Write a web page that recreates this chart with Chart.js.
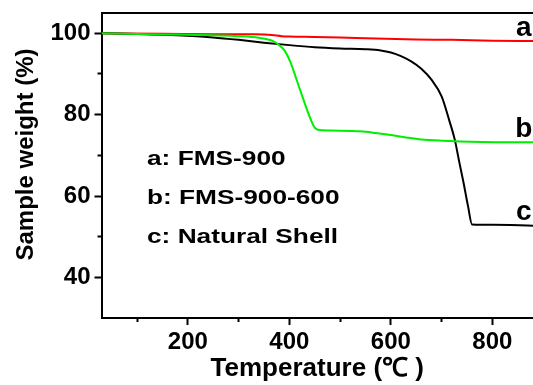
<!DOCTYPE html>
<html>
<head>
<meta charset="utf-8">
<script src="https://cdn.jsdelivr.net/npm/chart.js@4/dist/chart.umd.min.js"></script>
<style>
  html, body { margin: 0; padding: 0; background: #fff; overflow: hidden; }
  canvas { display: block; }
</style>
</head>
<body>
<canvas id="tga" width="533" height="385"></canvas>
<script>
'use strict';
const FONT = '"Liberation Sans", Arial, sans-serif';

// ticks
const xMajorTicks = [200, 400, 600, 800];
const xMinorTicks = [100, 300, 500, 700];
const yMajorTicks = [40, 60, 80, 100];
const yMinorTicks = [50, 70, 90];

// a: FMS-900 (red)
const tempA = [30, 150, 250, 330, 365, 385, 400, 450, 500, 570, 650, 720, 800, 880];
const weightA = [100, 99.9, 99.8, 99.75, 99.6, 99.3, 99.2, 99.1, 98.95, 98.7, 98.5, 98.4, 98.2, 98.1];

// b: FMS-900-600 (green)
const tempB = [30, 100, 200, 300, 340, 368, 380, 391, 402, 414, 427, 440, 450, 456, 480, 540, 570, 600, 630, 660, 700, 780, 880];
const weightB = [100, 99.85, 99.65, 99.3, 98.9, 98.1, 97.1, 95.7, 93.0, 88.7, 84.0, 79.5, 76.8, 76.3, 76.1, 75.9, 75.5, 75.0, 74.4, 73.9, 73.6, 73.3, 73.2];

// c: Natural Shell (black)
const tempC = [30, 100, 200, 250, 300, 350, 400, 450, 500, 550, 580, 600, 620, 640, 660, 680, 700, 715, 726, 735, 743, 752, 760, 800, 880];
const weightC = [100, 99.85, 99.4, 99.0, 98.4, 97.7, 97.1, 96.6, 96.3, 96.1, 95.8, 95.3, 94.4, 93.1, 91.3, 88.6, 84.5, 78.6, 73.8, 68.2, 63.4, 57.5, 53.0, 52.9, 52.7];

const legendLines = ['a: FMS-900', 'b: FMS-900-600', 'c: Natural Shell'];
const curveTags = ['a', 'b', 'c'];
const tagTemp = 862;

const pts = (t, w) => t.map((v, i) => ({ x: v, y: w[i] }));
const fixTicks = (arr) => (s) => { s.ticks = arr.map(v => ({ value: v })); };
const noPad = (s) => { s.paddingTop = 0; s.paddingBottom = 0; s.paddingLeft = 0; s.paddingRight = 0; };

const tickFont = { family: FONT, size: 24, weight: 'bold' };

const textPlugin = {
  id: 'textPlugin',
  afterDatasetsDraw(chart) {
    const { ctx, chartArea, scales } = chart;
    const x = scales.x, y = scales.y;
    ctx.save();
    ctx.fillStyle = '#000';
    // legend block (text is horizontally stretched in the source)
    ctx.font = 'bold 21px ' + FONT;
    ctx.textAlign = 'left';
    ctx.textBaseline = 'alphabetic';
    legendLines.forEach((t, i) => {
      ctx.save();
      ctx.translate(chartArea.left + 45.5, chartArea.top + 152 + i * 39);
      ctx.scale(1.25, 1);
      ctx.fillText(t, 0, 0);
      ctx.restore();
    });
    // curve letters at the right end
    ctx.font = 'bold 28px ' + FONT;
    ctx.textAlign = 'center';
    const lastW = [weightA, weightB, weightC].map(w => w[w.length - 1]);
    curveTags.forEach((tag, i) => {
      ctx.fillText(tag, x.getPixelForValue(tagTemp), y.getPixelForValue(lastW[i]) - 5.5);
    });
    // y title
    ctx.font = 'bold 24px ' + FONT;
    ctx.translate(33, (chartArea.top + chartArea.bottom) / 2 - 11);
    ctx.rotate(-Math.PI / 2);
    ctx.fillText('Sample weight (%)', 0, 0);
    ctx.restore();
  }
};

new Chart(document.getElementById('tga'), {
  type: 'line',
  data: {
    datasets: [
      { label: 'a', data: pts(tempA, weightA), borderColor: '#ff0000', order: 3 },
      { label: 'b', data: pts(tempB, weightB), borderColor: '#00ee00', order: 1 },
      { label: 'c', data: pts(tempC, weightC), borderColor: '#000000', order: 2 },
    ],
  },
  options: {
    responsive: false, animation: false,
    layout: { padding: { top: 13, left: 0, right: 0, bottom: 0 } },
    elements: {
      line: { borderWidth: 2, cubicInterpolationMode: 'monotone', fill: false },
      point: { radius: 0 },
    },
    plugins: { legend: { display: false }, tooltip: { enabled: false } },
    scales: {
      x: {
        type: 'linear', position: 'bottom', weight: 1, min: 30, max: 880,
        afterBuildTicks: fixTicks(xMajorTicks),
        afterFit: s => { s.height = 67; noPad(s); },
        grid: { drawOnChartArea: false, tickLength: 7, tickWidth: 2, tickColor: '#000' },
        border: { display: true, color: '#000', width: 2 },
        ticks: { color: '#000', font: tickFont, padding: 3, maxRotation: 0 },
        title: { display: true, text: 'Temperature (℃ )', color: '#000',
                 font: { family: FONT, size: 26, weight: 'bold' }, padding: { top: 0, bottom: 1 } },
      },
      xMinor: {
        type: 'linear', position: 'bottom', weight: 0, min: 30, max: 880,
        afterBuildTicks: fixTicks(xMinorTicks),
        afterFit: s => { s.height = 0; noPad(s); },
        grid: { drawOnChartArea: false, tickLength: 4, tickWidth: 2, tickColor: '#000' },
        border: { display: false },
        ticks: { display: false },
      },
      xTop: {
        type: 'linear', position: 'top', min: 30, max: 880,
        afterFit: s => { s.height = 0; noPad(s); },
        grid: { drawOnChartArea: false, drawTicks: false },
        border: { display: true, color: '#000', width: 2 },
        ticks: { display: false },
      },
      y: {
        type: 'linear', position: 'left', weight: 1, min: 30, max: 105,
        afterBuildTicks: fixTicks(yMajorTicks),
        afterFit: s => { s.width = 101.5; noPad(s); },
        grid: { drawOnChartArea: false, tickLength: 7, tickWidth: 2, tickColor: '#000' },
        border: { display: true, color: '#000', width: 2 },
        ticks: { color: '#000', font: tickFont, padding: 4 },
      },
      yMinor: {
        type: 'linear', position: 'left', weight: 0, min: 30, max: 105,
        afterBuildTicks: fixTicks(yMinorTicks),
        afterFit: s => { s.width = 0; noPad(s); },
        grid: { drawOnChartArea: false, tickLength: 4, tickWidth: 2, tickColor: '#000' },
        border: { display: false },
        ticks: { display: false },
      },
    },
  },
  plugins: [textPlugin],
});
</script>
</body>
</html>
